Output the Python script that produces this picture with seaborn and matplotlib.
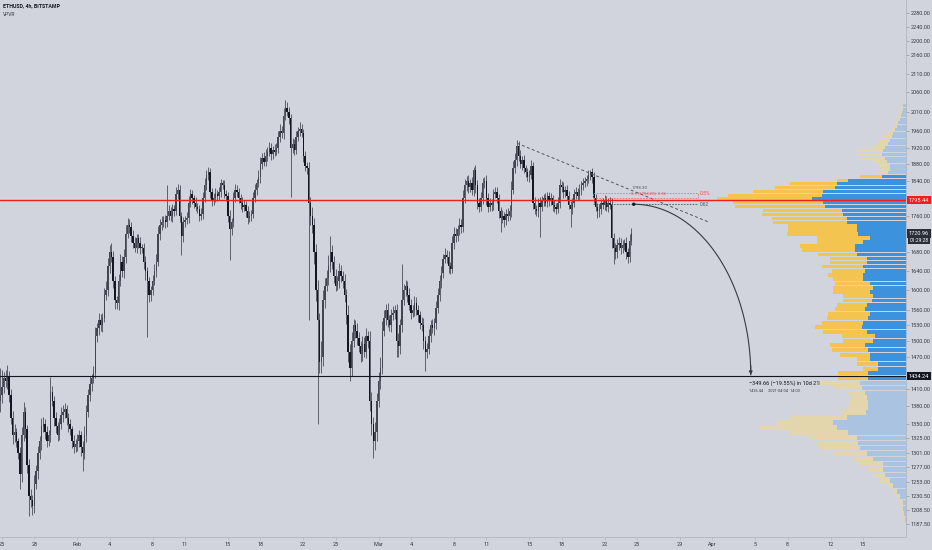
import numpy as np
import pandas as pd
import matplotlib
matplotlib.use("Agg")
import matplotlib.pyplot as plt
import matplotlib.transforms as mtransforms
from matplotlib.patches import Rectangle
from matplotlib.ticker import NullLocator, NullFormatter
import seaborn as sns

# ==================================================
# DATA
# ==================================================
first_time = "2021-01-24 20:00"
first_open = 1390

closes = [
    1400, 1415, 1430, 1425, 1435, 1400, 1360, 1330, 1335, 1320,
    1300, 1265, 1330, 1370, 1340, 1280, 1230, 1225, 1215, 1250,
    1270, 1300, 1320, 1345, 1350, 1335, 1320, 1330, 1405, 1390,
    1360, 1345, 1330, 1350, 1365, 1370, 1375, 1360, 1350, 1340,
    1320, 1310, 1315, 1320, 1330, 1310, 1300, 1330, 1370, 1400,
    1420, 1430, 1440, 1510, 1525, 1540, 1530, 1545, 1590, 1600,
    1650, 1680, 1670, 1620, 1580, 1575, 1620, 1660, 1640, 1670,
    1720, 1740, 1735, 1715, 1700, 1690, 1710, 1700, 1690, 1690,
    1660, 1640, 1620, 1590, 1600, 1620, 1640, 1660, 1720, 1740,
    1745, 1750, 1745, 1760, 1770, 1760, 1775, 1770, 1810, 1820,
    1760, 1715, 1745, 1750, 1755, 1790, 1810, 1800, 1790, 1780,
    1775, 1760, 1765, 1800, 1830, 1855, 1860, 1815, 1795, 1800,
    1810, 1805, 1815, 1835, 1830, 1810, 1805, 1760, 1730, 1745,
    1800, 1820, 1815, 1800, 1790, 1780, 1785, 1770, 1755, 1760,
    1765, 1800, 1820, 1835, 1850, 1880, 1895, 1885, 1900, 1910,
    1920, 1905, 1915, 1910, 1920, 1945, 1960, 1955, 2000, 2020,
    2010, 1995, 1920, 1930, 1915, 1945, 1960, 1965, 1955, 1900,
    1875, 1870, 1790, 1760, 1740, 1680, 1600, 1540, 1460, 1470,
    1580, 1610, 1625, 1650, 1680, 1660, 1630, 1610, 1620, 1640,
    1630, 1620, 1590, 1550, 1480, 1450, 1500, 1530, 1520, 1505,
    1490, 1475, 1495, 1480, 1510, 1500, 1390, 1350, 1320, 1335,
    1390, 1425, 1450, 1520, 1545, 1560, 1540, 1530, 1550, 1555,
    1560, 1500, 1490, 1530, 1580, 1600, 1610, 1590, 1570, 1555,
    1560, 1575, 1560, 1550, 1535, 1530, 1500, 1480, 1485, 1510,
    1530, 1525, 1535, 1565, 1590, 1620, 1635, 1665, 1675, 1670,
    1650, 1645, 1700, 1720, 1715, 1730, 1740, 1735, 1800, 1830,
    1840, 1825, 1835, 1820, 1865, 1830, 1790, 1780, 1800, 1835,
    1840, 1800, 1780, 1790, 1785, 1810, 1815, 1800, 1770, 1755,
    1760, 1750, 1765, 1760, 1770, 1820, 1870, 1890, 1925, 1900,
    1880, 1890, 1870, 1860, 1850, 1855, 1875, 1790, 1775, 1770,
    1790, 1780, 1795, 1800, 1790, 1805, 1795, 1800, 1785, 1780,
    1775, 1790, 1830, 1825, 1815, 1820, 1805, 1785, 1775, 1790,
    1810, 1815, 1805, 1820, 1830, 1835, 1840, 1845, 1855, 1860,
    1850, 1800, 1780, 1770, 1775, 1790, 1785, 1795, 1780, 1790,
    1785, 1710, 1690, 1680, 1695, 1700, 1690, 1695, 1700, 1680,
    1670, 1705, 1720.96,
]

up_wick = [
    50, 30, 12, 15, 20, 8, 10, 12, 15, 8, 6, 10, 14, 18, 9, 7, 10, 12, 8, 14,
    10, 12, 9, 15, 11, 8, 10, 9, 28, 12, 8, 10, 7, 9, 14, 12, 10, 8, 9, 7,
    6, 10, 8, 12, 9, 7, 10, 15, 12, 10, 14, 9, 12, 18, 10, 14, 12, 10, 15, 20,
    18, 15, 20, 12, 10, 8, 14, 16, 12, 18, 20, 15, 12, 10, 14, 12, 10, 9, 12, 8,
    10, 12, 9, 8, 10, 12, 14, 16, 18, 12, 15, 10, 12, 70, 14, 10, 12, 9, 15, 12,
    10, 9, 12, 10, 14, 16, 12, 10, 8, 12, 9, 10, 12, 14, 18, 12, 12, 10, 9, 12,
    14, 10, 12, 10, 8, 12, 10, 9, 12, 10, 14, 12, 10, 8, 9, 12, 10, 8, 12, 10,
    9, 14, 12, 10, 15, 18, 12, 14, 16, 12, 15, 12, 10, 14, 12, 16, 18, 14, 20, 20,
    15, 12, 10, 14, 12, 15, 12, 18, 14, 10, 12, 9, 15, 12, 20, 14, 18, 22, 15, 30,
    20, 15, 18, 25, 36, 15, 12, 14, 10, 16, 12, 10, 14, 12, 20, 15, 18, 12, 10, 14,
    12, 10, 14, 12, 15, 10, 20, 15, 12, 18, 14, 16, 20, 18, 15, 12, 14, 10, 12, 14,
    10, 12, 15, 12, 75, 14, 12, 10, 15, 12, 10, 14, 12, 10, 9, 12, 15, 10, 12, 14,
    10, 12, 9, 14, 16, 12, 15, 12, 14, 10, 12, 9, 16, 14, 12, 10, 14, 12, 18, 15,
    12, 14, 10, 15, 7, 14, 12, 10, 14, 12, 10, 14, 12, 10, 9, 12, 10, 12, 9, 10,
    12, 9, 10, 12, 14, 20, 18, 16, 13, 12, 14, 10, 12, 9, 10, 12, 15, 10, 12, 9,
    10, 12, 9, 10, 12, 9, 10, 12, 8, 10, 9, 12, 14, 10, 12, 9, 10, 12, 9, 10,
    12, 10, 9, 12, 10, 12, 9, 10, 12, 5, 10, 12, 9, 10, 12, 9, 10, 12, 9, 10,
    12, 15, 12, 10, 14, 12, 10, 12, 9, 12, 10, 14, 12,
]

dn_wick = [
    20, 15, 12, 10, 14, 12, 10, 15, 12, 10, 10, 23, 12, 10, 14, 12, 30, 12, 14, 10,
    8, 12, 10, 14, 9, 12, 10, 8, 12, 10, 14, 12, 10, 8, 9, 12, 10, 12, 14, 10,
    12, 10, 8, 12, 10, 14, 29, 10, 12, 9, 10, 12, 8, 10, 12, 14, 10, 12, 9, 10,
    12, 14, 10, 16, 18, 12, 14, 10, 12, 15, 12, 10, 14, 12, 10, 9, 12, 10, 14, 12,
    15, 18, 113, 14, 12, 10, 9, 12, 10, 14, 12, 10, 12, 9, 10, 12, 14, 10, 9, 12,
    14, 40, 12, 10, 9, 12, 10, 14, 12, 10, 9, 12, 10, 12, 9, 10, 12, 14, 12, 10,
    9, 12, 10, 12, 9, 10, 12, 14, 67, 12, 10, 9, 12, 10, 14, 12, 10, 12, 14, 10,
    12, 10, 9, 12, 10, 14, 12, 10, 9, 12, 10, 14, 12, 10, 9, 12, 10, 12, 14, 10,
    12, 15, 118, 14, 12, 10, 9, 12, 10, 15, 12, 14, 250, 20, 18, 25, 22, 190, 20, 20,
    18, 15, 12, 14, 12, 15, 14, 12, 10, 14, 12, 15, 14, 18, 20, 25, 16, 12, 14, 12,
    10, 14, 12, 10, 12, 14, 18, 20, 28, 15, 14, 12, 15, 12, 10, 14, 12, 10, 12, 10,
    12, 30, 20, 14, 12, 10, 12, 14, 10, 12, 9, 12, 10, 14, 12, 10, 15, 36, 12, 10,
    12, 10, 14, 12, 10, 12, 14, 10, 9, 12, 15, 12, 10, 14, 12, 10, 12, 14, 10, 12,
    14, 12, 10, 12, 14, 18, 15, 12, 10, 14, 12, 15, 12, 10, 14, 12, 10, 12, 14, 31,
    12, 14, 10, 12, 9, 12, 10, 12, 14, 12, 10, 14, 12, 10, 9, 12, 10, 14, 12, 10,
    12, 68, 10, 12, 9, 10, 12, 10, 14, 12, 10, 9, 12, 10, 14, 12, 10, 9, 40, 12,
    10, 12, 9, 10, 12, 10, 9, 12, 10, 12, 14, 12, 10, 14, 12, 10, 9, 12, 10, 12,
    10, 20, 35, 14, 12, 10, 14, 12, 10, 14, 12, 10, 9,
]

# volume profile (visible range), rows from bottom to top
vp_low = 1190.0
vp_step = 8.75
va_first, va_last = 27, 75
vol_up = [
    1.5, 2, 3, 2.7, 6, 9.3, 12.7, 16, 21, 22.7,
    22.7, 32.7, 39.3, 46, 47.7, 49.3, 57.7, 69.3, 72.7, 59.3,
    40, 38, 38, 39.3, 41, 44.3, 46, 37.7, 37.7, 27.7,
    27.7, 36, 36, 37.7, 41, 32.7, 31, 39.3, 44.3, 42.7,
    37.7, 36, 41, 39.3, 34.3, 32.7, 36, 32.7, 36, 42.7,
    42.7, 41, 42.7, 39.3, 39.3, 49.3, 51, 51, 42.7, 36,
    47.7, 49.3, 49.3, 59.3, 59.3, 62.7, 64.3, 81, 82.7, 94.3,
    84.3, 82.7, 71, 69.3, 57.7, 24.3, 17.7, 16, 16, 19.3,
    21, 24.3, 22.7, 21, 17.7, 16, 14.3, 12.7, 11, 9.3,
    7.7, 6, 5, 4.3, 3.3, 2.7,
]
vol_dn = [
    1, 2, 2, 3.3, 3.3, 3.3, 6.7, 10, 11.7, 16.7,
    23.3, 20, 33.3, 40, 41.7, 46.7, 58.3, 76.7, 56.7, 56.7,
    25, 20, 18, 15, 18.3, 28.3, 40, 30, 30, 15,
    21.7, 13.3, 30, 36.7, 35, 30, 33.3, 43.3, 46.7, 41.7,
    41.7, 41.7, 30, 30, 28.3, 30, 36.7, 40, 35, 30,
    35, 33.3, 41.7, 36.7, 36.7, 38.3, 53.3, 55, 46.7, 53.3,
    71.7, 68.3, 68.3, 73.3, 75, 81.7, 78.3, 90, 90, 95,
    93.3, 70, 60, 46.7, 11.7, 21.7, 10, 8.3, 10, 13.3,
    25, 26.7, 26.7, 11.7, 11.7, 10, 10, 6.7, 3.3, 3.3,
    3.3, 3.3, 2.7, 2, 2, 1.3,
]

poc_price = 1795.44
last_price = 1720.96
countdown = "01:29:28"
support_price = 1434.24

trend_start = ("2021-03-13 20:40", 1930.7)
trend_end = ("2021-03-31 14:20", 1746.7)

range_start = ("2021-03-24 17:00", 1786.10)
range_end = ("2021-04-04 14:00", 1436.44)
range_text = "\u2212349.66 (\u221219.55%) in 10d 21h"
range_sub = "1436.44     2021-04-04  14:00"

fib_left = "2021-03-20 22:20"
fib_right = "2021-03-30 16:20"
fib_top, fib_bottom = 1812.0, 1800.5

price_ticks = [2280, 2240, 2200, 2160, 2110, 2060, 2010, 1960, 1920, 1880,
               1840, 1760, 1680, 1640, 1600, 1560, 1530, 1500, 1470, 1410,
               1380, 1350, 1325, 1301, 1277, 1253, 1230.5, 1208.5, 1187.5]

date_ticks = ["2021-01-25", "2021-01-28", "2021-02-01", "2021-02-04", "2021-02-08",
              "2021-02-11", "2021-02-15", "2021-02-18", "2021-02-22", "2021-02-25",
              "2021-03-01", "2021-03-04", "2021-03-08", "2021-03-11", "2021-03-15",
              "2021-03-18", "2021-03-22", "2021-03-25", "2021-03-29", "2021-04-01",
              "2021-04-05", "2021-04-08", "2021-04-12", "2021-04-15"]
date_labels = ["25", "28", "Feb", "4", "8", "11", "15", "18", "22", "25",
               "Mar", "4", "8", "11", "15", "18", "22", "25", "29", "Apr",
               "5", "8", "12", "15"]

# ==================================================
# STYLE
# ==================================================
BG = "#d1d4dc"
sns.set_theme(style="white", rc={"figure.facecolor": BG, "axes.facecolor": BG})
plt.rcParams["font.family"] = ["Roboto", "DejaVu Sans"]

base = pd.Timestamp("2021-01-25")


def to_day(ts):
    return (pd.Timestamp(ts) - base) / pd.Timedelta("1D")


# ==================================================
# FIGURE
# ==================================================
fig = plt.figure(figsize=(9.32, 5.5), dpi=100)
ax = fig.add_axes([0, 13 / 550, 906 / 932, 537 / 550])
ax.set_yscale("log")
ax.set_ylim(1168.0, 2318.1)
ax.set_xlim(-0.186, 84.01)

# ---------------- candles
n = min(len(closes), len(up_wick), len(dn_wick))
times = pd.date_range(first_time, periods=n, freq="4h")
day = np.array([to_day(t) for t in times])
close = np.array(closes[:n], dtype=float)
opens = np.concatenate([[first_open], close[:-1]])
body_top = np.maximum(opens, close)
body_bot = np.minimum(opens, close)
highs = body_top + np.array(up_wick[:n])
lows = body_bot - np.array(dn_wick[:n])
rising = close >= opens

ax.vlines(day, lows, highs, color="#5d606b", lw=0.7, zorder=2)
ax.bar(day, np.maximum(body_top - body_bot, 1.5), bottom=body_bot, width=0.13,
       color=np.where(rising, "#434651", "#131722"), linewidth=0, zorder=3)

# ---------------- trend line
sns.lineplot(x=[to_day(trend_start[0]), to_day(trend_end[0])],
             y=[trend_start[1], trend_end[1]], ax=ax, color="#50535e",
             lw=0.7, linestyle=(0, (3, 2.5)), zorder=4)

# ---------------- fib / levels box
x_l, x_r = to_day(fib_left), to_day(fib_right)
ax.add_patch(Rectangle((x_l, fib_bottom), x_r - x_l, fib_top - fib_bottom,
                       fill=False, ec="#f0727a", lw=0.6, ls=(0, (2, 1.5)), zorder=4))
ax.hlines(range_start[1], x_l, x_r, color="#50535e", lw=0.6,
          linestyles=(0, (2, 1.5)), zorder=4)
ax.text(to_day("2021-03-24 12:00"), 1824, "1798.30", fontsize=3.2, color="#50535e",
        va="center", ha="left", zorder=5)
ax.text(to_day("2021-03-24 12:00"), 1811, "0.5 (1794.20)  0.86", fontsize=3.0,
        color="#e8505b", va="center", ha="left", zorder=5)
ax.text(x_r + 0.2, 1811, "0.5%", fontsize=3.6, color="#e8505b", va="center",
        ha="left", zorder=5)
ax.text(x_r + 0.2, range_start[1], "0.62", fontsize=3.4, color="#50535e",
        va="center", ha="left", zorder=5)

# ---------------- projection arc
d0, p0 = to_day(range_start[0]), range_start[1]
d1, p1 = to_day(range_end[0]), range_end[1]
t = np.linspace(0, np.pi / 2, 80)
arc_d = d0 + (d1 - d0) * np.sin(t)
arc_p = np.exp(np.log(p1) + (np.log(p0) - np.log(p1)) * np.cos(t))
ax.plot(arc_d, arc_p, color="#363a45", lw=0.8, zorder=5)
ax.annotate("", xy=(d1, p1), xytext=(d1, p1 * 1.012),
            arrowprops=dict(arrowstyle="-|>", color="#363a45", lw=0.8,
                            mutation_scale=5, shrinkA=0, shrinkB=0), zorder=5)
sns.scatterplot(x=[d0], y=[p0], ax=ax, s=6, color="#131722", edgecolor="none", zorder=6)
ax.text(to_day("2021-04-04 09:00"), 1421, range_text, fontsize=4.0,
        color="#131722", va="center", ha="left", zorder=6)
ax.text(to_day("2021-04-04 09:00"), 1407, range_sub, fontsize=2.8,
        color="#363a45", va="center", ha="left", zorder=6)

# ---------------- volume profile (right aligned)
ax2 = ax.twiny()
ax2.set_xlim(906, 0)
ax2.xaxis.set_visible(False)
for s in ax2.spines.values():
    s.set_visible(False)
rows = np.arange(len(vol_up))
row_bottom = vp_low + rows * vp_step
in_va = (rows >= va_first) & (rows <= va_last)
up_col = np.where(in_va, "#3d92de", "#aac3e1")
dn_col = np.where(in_va, "#f4c450", "#e4d6ac")
ax2.barh(row_bottom + vp_step * 0.07, vol_up, height=vp_step * 0.86, left=0,
         align="edge", color=up_col, linewidth=0)
ax2.barh(row_bottom + vp_step * 0.07, vol_dn, height=vp_step * 0.86, left=vol_up,
         align="edge", color=dn_col, linewidth=0)

# horizontal levels on top of everything
ax2.axhline(poc_price, color="#f21d1d", lw=1.0, zorder=10)
ax2.axhline(support_price, color="#131722", lw=0.8, zorder=10)

# ==================================================
# AXES
# ==================================================
for side in ["top", "left"]:
    ax.spines[side].set_visible(False)
for side in ["right", "bottom"]:
    ax.spines[side].set_color("#b2b5be")
    ax.spines[side].set_linewidth(0.6)

ax.yaxis.tick_right()
ax.set_yticks(price_ticks)
ax.set_yticklabels([f"{p:.2f}" for p in price_ticks])
ax.yaxis.set_minor_locator(NullLocator())
ax.yaxis.set_minor_formatter(NullFormatter())
ax.tick_params(axis="y", which="major", right=True, length=2, width=0.5,
               color="#9598a1", labelsize=4, labelcolor="#363a45", pad=1.2)

ax.set_xticks([to_day(d) for d in date_ticks])
ax.set_xticklabels(date_labels)
ax.tick_params(axis="x", bottom=True, length=2, width=0.5, color="#b2b5be",
               labelsize=4, labelcolor="#363a45", pad=1.5)
ax.set_xlabel("")
ax.set_ylabel("")

# price labels on the scale
trans = mtransforms.blended_transform_factory(ax.transAxes, ax.transData)
label_x = 919 / 906
ax.text(label_x, poc_price, f"{poc_price:.2f}", transform=trans, ha="center",
        va="center", fontsize=4, color="white", clip_on=False, zorder=20,
        bbox=dict(boxstyle="square,pad=0.3", fc="#f21d1d", ec="none"))
ax.text(label_x, last_price, f"{last_price:.2f}", transform=trans, ha="center",
        va="center", fontsize=4, color="white", clip_on=False, zorder=20,
        bbox=dict(boxstyle="square,pad=0.3", fc="#2a2e39", ec="none"))
ax.annotate(countdown, xy=(label_x, last_price), xycoords=trans,
            xytext=(0, -5), textcoords="offset points", ha="center", va="center",
            fontsize=3.6, color="white", annotation_clip=False, zorder=20,
            bbox=dict(boxstyle="square,pad=0.3", fc="#2a2e39", ec="none"))
ax.text(label_x, support_price, f"{support_price:.2f}", transform=trans, ha="center",
        va="center", fontsize=4, color="white", clip_on=False, zorder=20,
        bbox=dict(boxstyle="square,pad=0.3", fc="#131722", ec="none"))

# header
fig.text(3 / 932, 1 - 6 / 550, "ETHUSD, 4h, BITSTAMP", fontsize=3.8,
         fontweight="bold", color="#131722", va="center", ha="left")
fig.text(3 / 932, 1 - 15 / 550, "VPVR", fontsize=3.6, color="#363a45",
         va="center", ha="left")

fig.savefig("out.png", dpi=100, facecolor=BG)
